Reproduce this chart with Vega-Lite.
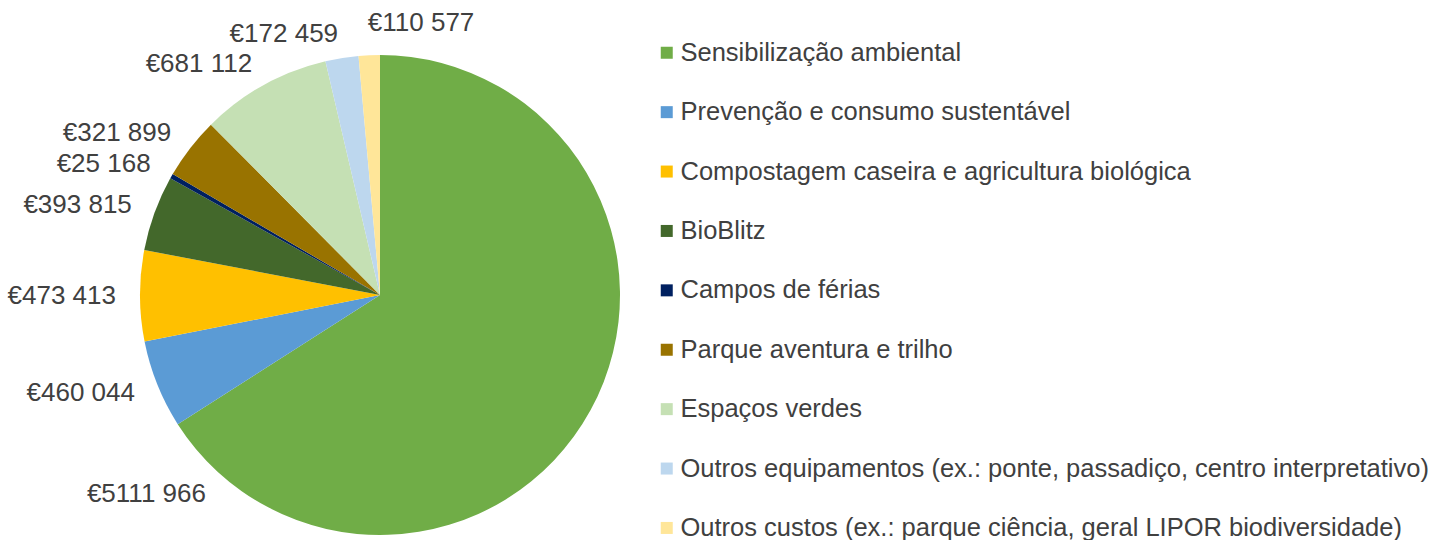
{
  "$schema": "https://vega.github.io/schema/vega-lite/v6.json",
  "autosize": {"type": "none"},
  "width": 760,
  "height": 490,
  "padding": {"left": 0, "top": 50, "right": 684, "bottom": 0},
  "background": "white",
  "config": {"view": {"stroke": null}, "font": "Liberation Sans"},
  "data": {
    "values": [
      {"Categoria": "Sensibilização ambiental", "Valor": 5111966, "Rotulo": "€5111 966"},
      {"Categoria": "Prevenção e consumo sustentável", "Valor": 460044, "Rotulo": "€460 044"},
      {"Categoria": "Compostagem caseira e agricultura biológica", "Valor": 473413, "Rotulo": "€473 413"},
      {"Categoria": "BioBlitz", "Valor": 393815, "Rotulo": "€393 815"},
      {"Categoria": "Campos de férias", "Valor": 25168, "Rotulo": "€25 168"},
      {"Categoria": "Parque aventura e trilho", "Valor": 321899, "Rotulo": "€321 899"},
      {"Categoria": "Espaços verdes", "Valor": 681112, "Rotulo": "€681 112"},
      {"Categoria": "Outros equipamentos (ex.: ponte, passadiço, centro interpretativo)", "Valor": 172459, "Rotulo": "€172 459"},
      {"Categoria": "Outros custos (ex.: parque ciência, geral LIPOR biodiversidade)", "Valor": 110577, "Rotulo": "€110 577"}
    ]
  },
  "transform": [
    {"window": [{"op": "row_number", "as": "ordem"}, {"op": "sum", "field": "Valor", "as": "fim"}], "frame": [null, 0]},
    {"joinaggregate": [{"op": "sum", "field": "Valor", "as": "total"}]},
    {"calculate": "max(datum.fim - datum.Valor / 2, datum.fim - 0.045 * datum.total)", "as": "pos"}
  ],
  "layer": [
    {
      "mark": {"type": "arc", "outerRadius": 240},
      "encoding": {
        "theta": {"field": "Valor", "type": "quantitative", "stack": true},
        "order": {"field": "ordem", "type": "quantitative"},
        "color": {
          "field": "Categoria",
          "type": "nominal",
          "scale": {
            "domain": [
              "Sensibilização ambiental",
              "Prevenção e consumo sustentável",
              "Compostagem caseira e agricultura biológica",
              "BioBlitz",
              "Campos de férias",
              "Parque aventura e trilho",
              "Espaços verdes",
              "Outros equipamentos (ex.: ponte, passadiço, centro interpretativo)",
              "Outros custos (ex.: parque ciência, geral LIPOR biodiversidade)"
            ],
            "range": ["#70AD47", "#5B9BD5", "#FFC000", "#43682B", "#002060", "#997300", "#C5E0B4", "#BDD7EE", "#FFE699"]
          },
          "legend": {
            "orient": "none",
            "legendX": 654,
            "legendY": -10,
            "title": null,
            "symbolType": "square",
            "symbolSize": 144,
            "symbolStrokeWidth": 0,
            "labelFontSize": 25.5,
            "labelColor": "#404040",
            "labelFont": "Liberation Sans",
            "rowPadding": 32.4,
            "labelOffset": 1,
            "labelLimit": 0,
            "padding": 0
          }
        }
      }
    },
    {
      "transform": [{"filter": "datum.pos / datum.total < 0.98"}],
      "mark": {"type": "text", "radius": 264, "align": "right", "baseline": "middle", "fontSize": 26, "fill": "#404040", "font": "Liberation Sans"},
      "encoding": {
        "theta": {"field": "pos", "type": "quantitative", "stack": null},
        "text": {"field": "Rotulo", "type": "nominal"}
      }
    },
    {
      "transform": [{"filter": "datum.pos / datum.total >= 0.98"}],
      "mark": {"type": "text", "radius": 272, "align": "left", "baseline": "middle", "fontSize": 26, "fill": "#404040", "font": "Liberation Sans"},
      "encoding": {
        "theta": {"field": "pos", "type": "quantitative", "stack": null},
        "text": {"field": "Rotulo", "type": "nominal"}
      }
    }
  ]
}
